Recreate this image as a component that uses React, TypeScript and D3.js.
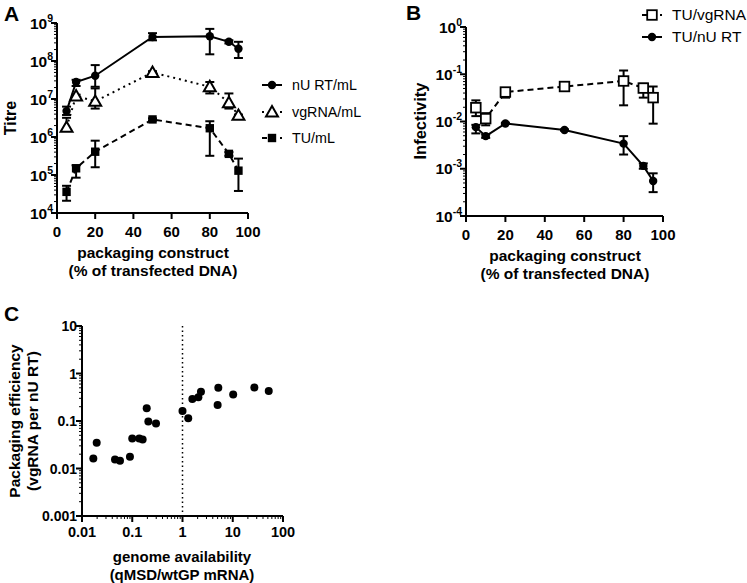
import React from "react";
import * as d3 from "d3";

// ---------- DATA ----------
const pctA = [5, 10, 20, 50, 80, 90, 95];
const nuRT = [4.8e6, 2.8e7, 4.1e7, 4.3e8, 4.5e8, 3.2e8, 2.1e8];
const nuRTLo = [3.8e6, 2.2e7, 2.1e7, 3.5e8, 1.5e8, 2.9e8, 1.2e8];
const nuRTHi = [6.3e6, 3.2e7, 7.8e7, 5.4e8, 7.0e8, 3.5e8, 3.2e8];
const vgRNA = [1.8e6, 1.2e7, 8.7e6, 5.0e7, 2.1e7, 8.0e6, 3.7e6];
const vgRNALo = [1.5e6, 1.1e7, 5.6e6, 4.6e7, 1.4e7, 5.6e6, 3.5e6];
const vgRNAHi = [3.2e6, 1.3e7, 1.9e7, 5.4e7, 2.8e7, 1.4e7, 3.9e6];
const tu = [3.6e4, 1.5e5, 4.1e5, 2.9e6, 1.7e6, 3.6e5, 1.3e5];
const tuLo = [2.1e4, 8.5e4, 1.6e5, 2.7e6, 3.2e5, 3.2e5, 3.8e4];
const tuHi = [5.2e4, 1.8e5, 8.0e5, 3.1e6, 2.6e6, 4.0e5, 2.7e5];

const tuVg = [0.0196, 0.0115, 0.042, 0.055, 0.072, 0.051, 0.032];
const tuVgLo = [0.013, 0.0083, 0.032, 0.05, 0.022, 0.032, 0.009];
const tuVgHi = [0.028, 0.015, 0.051, 0.06, 0.12, 0.063, 0.055];
const tuNu = [0.0076, 0.0049, 0.0091, 0.0066, 0.0034, 0.00115, 0.00055];
const tuNuLo = [0.0056, 0.0045, 0.0088, 0.0064, 0.002, 0.001, 0.00032];
const tuNuHi = [0.0085, 0.0053, 0.0094, 0.0068, 0.0049, 0.0013, 0.0008];

const genomeAvail = [0.0168, 0.0196, 0.0454, 0.057, 0.09, 0.1, 0.138, 0.161, 0.194, 0.209, 0.297, 1.0, 1.3, 1.57, 2.07, 2.33, 5.16, 5.0, 10.2, 26.9, 52];
const packEff = [0.0163, 0.035, 0.0155, 0.0146, 0.0177, 0.043, 0.043, 0.041, 0.185, 0.098, 0.089, 0.162, 0.114, 0.29, 0.316, 0.414, 0.5, 0.217, 0.363, 0.51, 0.43];

const linTicks = [0, 20, 40, 60, 80, 100];
const expA = [4, 5, 6, 7, 8, 9];
const expB = [-4, -3, -2, -1, 0];
const cTicks = [0.001, 0.01, 0.1, 1, 10];
const cTickLabels = ["0.001", "0.01", "0.1", "1", "10"];
const cxTicks = [0.01, 0.1, 1, 10, 100];
const cxTickLabels = ["0.01", "0.1", "1", "10", "100"];

const FONT = "'Liberation Sans', Arial, Helvetica, sans-serif";

function minorLog(lo: number, hi: number) {
  const out: number[] = [];
  for (let e = Math.round(Math.log10(lo)); e < Math.round(Math.log10(hi)); e++) {
    for (let k = 2; k <= 9; k++) out.push(k * Math.pow(10, e));
  }
  return out;
}

function ErrBars({ xs, lo, hi, x, y }: any) {
  return (
    <g stroke="#000" strokeWidth={2}>
      {xs.map((xv: number, i: number) => {
        const px = x(xv);
        const y1 = y(lo[i]);
        const y2 = y(hi[i]);
        return (
          <g key={i}>
            <line x1={px} x2={px} y1={y1} y2={y2} />
            <line x1={px - 4.5} x2={px + 4.5} y1={y1} y2={y1} />
            <line x1={px - 4.5} x2={px + 4.5} y1={y2} y2={y2} />
          </g>
        );
      })}
    </g>
  );
}

function Marker({ kind, cx, cy }: any) {
  if (kind === "circle") return <circle cx={cx} cy={cy} r={4.2} fill="#000" />;
  if (kind === "square") return <rect x={cx - 4.2} y={cy - 4.2} width={8.4} height={8.4} fill="#000" />;
  if (kind === "osquare")
    return <rect x={cx - 4.8} y={cy - 4.8} width={9.6} height={9.6} fill="#fff" stroke="#000" strokeWidth={1.8} />;
  const p = d3.symbol(d3.symbolTriangle, 62)() as string;
  return <path d={p} transform={`translate(${cx},${cy + 1})`} fill="#fff" stroke="#000" strokeWidth={2} />;
}

function Series({ xs, ys, lo, hi, x, y, kind, dash }: any) {
  const line = d3
    .line<number>()
    .x((_, i) => x(xs[i]))
    .y((v) => y(v));
  return (
    <g>
      <path d={line(ys) as string} fill="none" stroke="#000" strokeWidth={2} strokeDasharray={dash} />
      <ErrBars xs={xs} lo={lo} hi={hi} x={x} y={y} />
      {xs.map((xv: number, i: number) => (
        <Marker key={i} kind={kind} cx={x(xv)} cy={y(ys[i])} />
      ))}
    </g>
  );
}

function LegendRow({ x, y, kind, dash, label, fs }: any) {
  return (
    <g>
      <line x1={x} x2={x + 20} y1={y} y2={y} stroke="#000" strokeWidth={2} strokeDasharray={dash} />
      <Marker kind={kind} cx={x + 10} cy={y} />
      <text x={x + 30} y={y + 5} fontSize={fs} fontFamily={FONT}>
        {label}
      </text>
    </g>
  );
}

function LogYAxis({ y, x0, exps, minor }: any) {
  return (
    <g>
      <line x1={x0} x2={x0} y1={y.range()[0]} y2={y.range()[1]} stroke="#000" strokeWidth={2} />
      {minor.map((v: number, i: number) => (
        <line key={"m" + i} x1={x0 - 3} x2={x0} y1={y(v)} y2={y(v)} stroke="#000" strokeWidth={1} />
      ))}
      {exps.map((e: number) => (
        <g key={e}>
          <line x1={x0 - 6} x2={x0} y1={y(Math.pow(10, e))} y2={y(Math.pow(10, e))} stroke="#000" strokeWidth={2} />
          <text x={x0 - 4} y={y(Math.pow(10, e)) + 5.5} textAnchor="end" fontFamily={FONT} fontWeight="bold" fontSize={15.5}>
            <tspan>10</tspan>
            <tspan fontSize={10.5} dy={-7}>{e < 0 ? "-" + Math.abs(e) : String(e)}</tspan>
          </text>
        </g>
      ))}
    </g>
  );
}

function LinXAxis({ x, y0 }: any) {
  return (
    <g>
      <line x1={x.range()[0]} x2={x.range()[1]} y1={y0} y2={y0} stroke="#000" strokeWidth={2} />
      {linTicks.map((t) => (
        <g key={t}>
          <line x1={x(t)} x2={x(t)} y1={y0} y2={y0 + 6} stroke="#000" strokeWidth={2} />
          <text x={x(t)} y={y0 + 24} textAnchor="middle" fontFamily={FONT} fontWeight="bold" fontSize={15}>
            {t}
          </text>
        </g>
      ))}
    </g>
  );
}

export default function App() {
  // Panel A
  const xA = d3.scaleLinear().domain([0, 100]).range([57, 248]);
  const yA = d3.scaleLog().domain([1e4, 1e9]).range([213, 23]);
  // Panel B
  const xB = d3.scaleLinear().domain([0, 100]).range([466, 663]);
  const yB = d3.scaleLog().domain([1e-4, 1]).range([216, 27]);
  // Panel C
  const xC = d3.scaleLog().domain([0.01, 100]).range([82, 283]);
  const yC = d3.scaleLog().domain([0.001, 10]).range([516, 326]);

  const titleStyle = { fontFamily: FONT, fontWeight: "bold" as const, fontSize: 15.5 };

  return (
    <svg width={747} height={583} style={{ position: "absolute", left: 0, top: 0, background: "#fff" }}>
      <rect width={747} height={583} fill="#fff" />
      {/* Panel labels */}
      <text x={4} y={21} fontFamily={FONT} fontWeight="bold" fontSize={21}>A</text>
      <text x={406} y={20} fontFamily={FONT} fontWeight="bold" fontSize={21}>B</text>
      <text x={4} y={321} fontFamily={FONT} fontWeight="bold" fontSize={21}>C</text>

      {/* ---------- Panel A ---------- */}
      <LogYAxis y={yA} x0={57} exps={expA} minor={minorLog(1e4, 1e9)} />
      <LinXAxis x={xA} y0={213} />
      <text transform={`translate(16,118) rotate(-90)`} textAnchor="middle" {...titleStyle} fontSize={16}>Titre</text>
      <text x={153} y={258} textAnchor="middle" {...titleStyle}>packaging construct</text>
      <text x={153} y={276} textAnchor="middle" {...titleStyle}>(% of transfected DNA)</text>
      <Series xs={pctA} ys={tu} lo={tuLo} hi={tuHi} x={xA} y={yA} kind="square" dash="6,4" />
      <Series xs={pctA} ys={vgRNA} lo={vgRNALo} hi={vgRNAHi} x={xA} y={yA} kind="triangle" dash="2,4" />
      <Series xs={pctA} ys={nuRT} lo={nuRTLo} hi={nuRTHi} x={xA} y={yA} kind="circle" />
      <LegendRow x={262} y={85} kind="circle" label="nU RT/mL" fs={14.3} />
      <LegendRow x={262} y={112} kind="triangle" dash="2,4" label="vgRNA/mL" fs={14.3} />
      <LegendRow x={262} y={138} kind="square" dash="5,4" label="TU/mL" fs={14.3} />

      {/* ---------- Panel B ---------- */}
      <LogYAxis y={yB} x0={466} exps={expB} minor={minorLog(1e-4, 1)} />
      <LinXAxis x={xB} y0={216} />
      <text transform={`translate(426,121) rotate(-90)`} textAnchor="middle" {...titleStyle} fontSize={16.5}>Infectivity</text>
      <text x={565} y={261} textAnchor="middle" {...titleStyle}>packaging construct</text>
      <text x={565} y={279} textAnchor="middle" {...titleStyle}>(% of transfected DNA)</text>
      <Series xs={pctA} ys={tuNu} lo={tuNuLo} hi={tuNuHi} x={xB} y={yB} kind="circle" />
      <Series xs={pctA} ys={tuVg} lo={tuVgLo} hi={tuVgHi} x={xB} y={yB} kind="osquare" dash="6,4" />
      <LegendRow x={642} y={15} kind="osquare" dash="5,4" label="TU/vgRNA" fs={15.5} />
      <LegendRow x={642} y={37} kind="circle" label="TU/nU RT" fs={15.5} />

      {/* ---------- Panel C ---------- */}
      <line x1={82} x2={82} y1={516} y2={326} stroke="#000" strokeWidth={2} />
      {minorLog(0.001, 10).map((v, i) => (
        <line key={"cym" + i} x1={79} x2={82} y1={yC(v)} y2={yC(v)} stroke="#000" strokeWidth={1} />
      ))}
      {cTicks.map((t, i) => (
        <g key={"cy" + i}>
          <line x1={76} x2={82} y1={yC(t)} y2={yC(t)} stroke="#000" strokeWidth={2} />
          <text x={77} y={yC(t) + 5} textAnchor="end" fontFamily={FONT} fontWeight="bold" fontSize={14}>
            {cTickLabels[i]}
          </text>
        </g>
      ))}
      <line x1={82} x2={283} y1={516} y2={516} stroke="#000" strokeWidth={2} />
      {minorLog(0.01, 100).map((v, i) => (
        <line key={"cxm" + i} x1={xC(v)} x2={xC(v)} y1={516} y2={519} stroke="#000" strokeWidth={1} />
      ))}
      {cxTicks.map((t, i) => (
        <g key={"cx" + i}>
          <line x1={xC(t)} x2={xC(t)} y1={516} y2={522} stroke="#000" strokeWidth={2} />
          <text x={xC(t)} y={537} textAnchor="middle" fontFamily={FONT} fontWeight="bold" fontSize={14.5}>
            {cxTickLabels[i]}
          </text>
        </g>
      ))}
      <line x1={xC(1)} x2={xC(1)} y1={326} y2={516} stroke="#000" strokeWidth={1.5} strokeDasharray="1.5,3" />
      <text transform={`translate(20,421) rotate(-90)`} textAnchor="middle" {...titleStyle}>Packaging efficiency</text>
      <text transform={`translate(38,421) rotate(-90)`} textAnchor="middle" {...titleStyle}>(vgRNA per nU RT)</text>
      <text x={182} y={562} textAnchor="middle" {...titleStyle} fontSize={15}>genome availability</text>
      <text x={182} y={580} textAnchor="middle" {...titleStyle} fontSize={15}>(qMSD/wtGP mRNA)</text>
      {genomeAvail.map((g, i) => (
        <circle key={"p" + i} cx={xC(g)} cy={yC(packEff[i])} r={4} fill="#000" />
      ))}
    </svg>
  );
}
